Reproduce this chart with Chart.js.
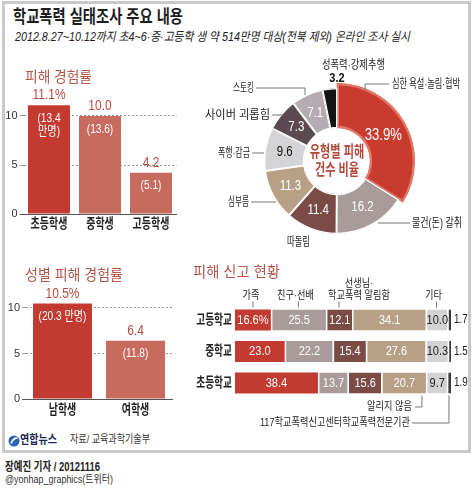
<!DOCTYPE html>
<html><head><meta charset="utf-8">
<script src="https://cdn.jsdelivr.net/npm/chart.js@4"></script>
<style>
html,body{margin:0;padding:0;background:#fff;}
body{width:474px;height:491px;position:relative;overflow:hidden;}
canvas{position:absolute;}
#frame{position:absolute;left:2px;top:1px;width:469px;height:452px;border:3px solid #c9c9c9;box-sizing:border-box;}
</style></head><body>
<div id="frame"></div>
<canvas id="cA" width="190" height="180" style="left:0;top:60px"></canvas>
<canvas id="cB" width="190" height="170" style="left:0;top:255px"></canvas>
<canvas id="cD" width="274" height="200" style="left:200px;top:55px"></canvas>
<canvas id="cC" width="280" height="165" style="left:190px;top:270px"></canvas>
<svg style="position:absolute;left:8px;top:435px" width="12" height="12"><circle cx="6" cy="6" r="5.5" fill="#2a62b8"/><path d="M3 8.5 Q5.5 2.5 9.6 3.2" stroke="#fff" stroke-width="1.6" fill="none"/></svg>
<script>
// ---------- data ----------
const rateCategories = ['초등학생', '중학생', '고등학생'];
const rateValues = [11.1, 10.0, 4.2];
const rateCountLabels = [['(13.4', '만명)'], ['(13.6)'], ['(5.1)']];
const rateTicks = [0, 5, 10];

const genderCategories = ['남학생', '여학생'];
const genderValues = [10.5, 6.4];
const genderCountLabels = [['(20.3 만명)'], ['(11.8)']];

const typeLabels = ['심한 욕설·놀림·협박', '물건(돈) 갈취', '따돌림', '심부름', '폭행·감금', '사이버 괴롭힘', '스토킹', '성폭력·강제추행'];
const typeValues = [33.9, 16.2, 11.4, 11.3, 9.6, 7.3, 7.1, 3.2];

const reportSchools = ['고등학교', '중학교', '초등학교'];
const reportChannels = ['가족', '친구·선배', '선생님·학교폭력 알림함', '알리지 않음', '기타', '117학교폭력신고센터학교폭력전문기관'];
const reportFamily  = [16.6, 23.0, 38.4];
const reportFriend  = [25.5, 22.2, 13.7];
const reportTeacher = [12.1, 15.4, 15.6];
const reportNone    = [34.1, 27.6, 20.7];
const reportOther   = [10.0, 10.3, 9.7];
const report117     = [1.7, 1.5, 1.9];

// ---------- style ----------
const FONT = '"Liberation Sans","Noto Sans CJK KR",sans-serif';
const RED = '#c33b30', SALMON = '#c66b5e', TITLE_RED = '#b4564a', VALUE_RED = '#b84a3e';
const reportColors = ['#c33b30', '#a99b99', '#7b4c45', '#b8a087', '#d3d3d5', '#3c3c3c'];
const typeColors = ['#c93b2f', '#a99b99', '#7b4c45', '#b8a087', '#d4d4d6', '#5b4a51', '#b3adb2', '#141414'];

function place(s, x1, x2, cy, size, o = {}) {
  const el = document.createElement('div');
  el.textContent = s;
  el.style.cssText = `position:absolute;left:${x1}px;top:${cy - 0.49 * size}px;font:${o.style || 'normal'} ${o.weight || 'normal'} ${size}px/${size}px ${FONT};color:${o.color || '#222'};white-space:nowrap;transform-origin:0 0;`;
  document.body.appendChild(el);
  const w = el.getBoundingClientRect().width;
  el.style.transform = `scaleX(${(x2 - x1) / w})`;
}
function ctext(ctx, s, x, cy, size, o = {}) {
  ctx.save();
  ctx.font = `${o.weight || 'normal'} ${size}px ${FONT}`;
  ctx.fillStyle = o.color || '#222';
  ctx.textAlign = o.align || 'center';
  ctx.textBaseline = 'middle';
  ctx.translate(x, cy);
  ctx.scale(o.sx || 0.8, 1);
  ctx.fillText(s, 0, 0);
  ctx.restore();
}
function line(ctx, pts, color = '#777') {
  ctx.save(); ctx.strokeStyle = color; ctx.lineWidth = 1; ctx.beginPath();
  pts.forEach((p, i) => i ? ctx.lineTo(p[0], p[1]) : ctx.moveTo(p[0], p[1]));
  ctx.stroke(); ctx.restore();
}

// ---------- texts ----------
place('학교폭력 실태조사 주요 내용', 13, 183, 17, 18, {weight: 'bold', color: '#1e1e1e'});
place('2012.8.27~10.12까지 초4~6·중·고등학 생 약 514만명 대상(전북 제외) 온라인 조사 실시', 15, 410, 37, 12.5, {style: 'italic', color: '#222'});
place('피해 경험률', 25, 92, 76, 15, {color: TITLE_RED});
place('성별 피해 경험률', 25, 123, 274, 15, {color: TITLE_RED});
place('피해 신고 현황', 193, 280, 271, 15, {color: TITLE_RED});

place(typeLabels[7], 322, 385, 65, 12);
place(typeLabels[0], 392, 460, 84, 12);
place(typeLabels[6], 233, 254, 88, 12);
place(typeLabels[5], 205, 270, 115, 12);
place(typeLabels[4], 218, 250, 153, 12);
place(typeLabels[3], 228, 249, 202, 12);
place(typeLabels[2], 287, 310, 242, 12);
place(typeLabels[1], 412, 462, 223, 12);

place('연합뉴스', 20, 57, 440, 12, {weight: 'bold', color: '#1d2850'});
place('자료/ 교육과학기술부', 70, 150, 440, 11.5, {color: '#333'});
place('장예진 기자 / 20121116', 5, 100, 467, 12, {weight: 'bold', color: '#222'});
place('@yonhap_graphics(트위터)', 5, 113, 479, 11, {color: '#333'});

// ---------- vertical bar charts ----------
function barLabelPlugin(fmt, inner, cats, catY) {
  return {
    id: 'barLabels',
    afterDatasetsDraw(chart) {
      const ctx = chart.ctx;
      const meta = chart.getDatasetMeta(0);
      meta.data.forEach((bar, i) => {
        const v = chart.data.datasets[0].data[i];
        ctext(ctx, fmt(v, i), bar.x, bar.y - 10, 15, {color: VALUE_RED, sx: 0.8});
        inner[i].forEach((ln, k) => ctext(ctx, ln, bar.x, bar.y + 13 + k * 13, 13, {color: '#fff', sx: 0.78}));
      });
      const xs = chart.scales.x;
      cats.forEach((c, i) => ctext(ctx, c, xs.getPixelForValue(i), catY, 13.5, {weight: 'bold', color: '#222', sx: 0.74}));
    }
  };
}
function barChart(id, cats, vals, colors, inner, o) {
  return new Chart(document.getElementById(id), {
    type: 'bar',
    data: {labels: cats, datasets: [{data: vals, backgroundColor: colors, barPercentage: o.barPct, categoryPercentage: 1}]},
    options: {
      responsive: false, animation: false, events: [],
      layout: {padding: {top: o.padTop, right: o.padRight, left: 0, bottom: 0}},
      plugins: {legend: {display: false}, tooltip: {enabled: false}},
      scales: {
        x: {grid: {display: false}, border: {display: true, color: '#555', width: 1}, ticks: {display: false},
            afterFit(s) { s.height = o.xH; }},
        y: {min: 0, max: 12,
            afterBuildTicks(s) { s.ticks = rateTicks.map(v => ({value: v})); },
            grid: {color: c => (c.tick && c.tick.value === 0) ? 'rgba(0,0,0,0)' : '#9a9a9a',
                   tickColor: c => (c.tick && c.tick.value === 0) ? '#555' : '#9a9a9a', tickLength: 4, lineWidth: 1},
            border: {display: false, dash: [2, 2]},
            ticks: {font: {size: 11, family: FONT}, color: '#333', padding: 2},
            afterFit(s) { s.width = o.yW; }}
      }
    },
    plugins: [barLabelPlugin((v, i) => v.toFixed(1) + (i === 0 ? '%' : ''), inner, cats, o.catY)]
  });
}
barChart('cA', rateCategories, rateValues, [RED, SALMON, SALMON], rateCountLabels,
  {barPct: 42 / 51, padTop: 36.4, padRight: 13.5, xH: 26, yW: 23.5, catY: 164});
barChart('cB', genderCategories, genderValues, [RED, SALMON], genderCountLabels,
  {barPct: 59 / 73, padTop: 34.8, padRight: 18, xH: 26, yW: 26, catY: 155});

// ---------- doughnut ----------
const OX = 200, OY = 55;
new Chart(document.getElementById('cD'), {
  type: 'doughnut',
  data: {labels: typeLabels, datasets: [{data: typeValues, backgroundColor: typeColors,
    borderColor: ['#e0796a', '#fff', '#fff', '#fff', '#fff', '#fff', '#fff', '#fff'],
    borderWidth: [2, 1, 1, 1, 1, 1, 1, 1], borderAlign: 'inner'}]},
  options: {
    responsive: false, animation: false, events: [],
    radius: 73, cutout: '45%',
    layout: {padding: {top: 12, bottom: 0, left: 0, right: 0}},
    plugins: {legend: {display: false}, tooltip: {enabled: false}}
  },
  plugins: [{
    id: 'dLabels',
    afterDatasetsUpdate(chart) {
      const a = chart.getDatasetMeta(0).data[0];
      a.outerRadius = a.outerRadius + 5;
    },
    afterDatasetsDraw(chart) {
      const ctx = chart.ctx;
      const arcs = chart.getDatasetMeta(0).data;
      const cx = arcs[1].x, cy = arcs[1].y, rin = arcs[1].innerRadius, rout = arcs[1].outerRadius;
      arcs.forEach((a, i) => {
        const v = typeValues[i];
        const mid = (a.startAngle + a.endAngle) / 2;
        if (i === 7) {
          ctext(ctx, v.toFixed(1), cx + Math.cos(a.endAngle) * (rout + 10), cy + Math.sin(a.endAngle) * (rout + 10), 13, {weight: 'bold', color: '#111', sx: 0.85});
          return;
        }
        const r = (rin + rout) / 2;
        const s = v.toFixed(1) + (i === 0 ? '%' : '');
        ctext(ctx, s, cx + Math.cos(mid) * r, cy + Math.sin(mid) * r, i === 0 ? 16 : 14,
          {color: i === 4 ? '#111' : '#fff', sx: 0.82});
      });
      ctext(ctx, '유형별 피해', cx, cy - 8, 15.5, {weight: 'bold', color: '#b3473a', sx: 0.72});
      ctext(ctx, '건수 비율', cx, cy + 10, 15.5, {weight: 'bold', color: '#b3473a', sx: 0.72});
      const L = (pts) => line(ctx, pts.map(p => [p[0] - OX, p[1] - OY]), '#777');
      L([[389, 84], [365, 84], [365, 90]]);
      L([[256, 88], [305, 88], [305, 95]]);
      L([[272, 115], [283, 115]]);
      L([[252, 153], [264, 153]]);
      L([[251, 202], [276, 202]]);
      L([[378, 223], [410, 223]]);
    }
  }]
});

// ---------- stacked horizontal bar ----------
const reportSeries = [reportFamily, reportFriend, reportTeacher, reportNone, reportOther, report117];
new Chart(document.getElementById('cC'), {
  type: 'bar',
  data: {labels: reportSchools, datasets: reportSeries.map((d, i) => ({
    label: reportChannels[i], data: d, backgroundColor: reportColors[i],
    borderColor: '#fff', borderSkipped: false,
    borderWidth: i === 0 ? 0 : {left: 1.5, right: 0, top: 0, bottom: 0},
    barPercentage: 21 / 31.5, categoryPercentage: 1}))},
  options: {
    indexAxis: 'y', responsive: false, animation: false, events: [],
    layout: {padding: {left: 45, right: 19, top: 34.25, bottom: 36.25}},
    plugins: {legend: {display: false}, tooltip: {enabled: false}},
    scales: {x: {display: false, stacked: true, min: 0, max: 100}, y: {display: false, stacked: true}}
  },
  plugins: [{
    id: 'cLabels',
    afterDatasetsDraw(chart) {
      const ctx = chart.ctx;
      chart.data.datasets.forEach((ds, di) => {
        chart.getDatasetMeta(di).data.forEach((el, ri) => {
          let s = ds.data[ri].toFixed(1);
          if (di === 0 && ri === 0) s += '%';
          if (di === 5) ctext(ctx, s, el.x + 3, el.y, 12, {align: 'left', color: '#222', sx: 0.82});
          else ctext(ctx, s, (el.x + el.base) / 2 + (di > 0 ? 0.75 : 0), el.y, 13, {color: di === 4 ? '#222' : '#fff', sx: 0.85});
        });
      });
      const m0 = chart.getDatasetMeta(0).data;
      reportSchools.forEach((s, i) => ctext(ctx, s, m0[i].base - 3, m0[i].y, 13.5, {align: 'right', weight: 'bold', color: '#222', sx: 0.72}));
      // header labels
      const heads = [{di: 0, lines: [reportChannels[0]], dx: -2}, {di: 1, lines: [reportChannels[1]], dx: -3},
                     {di: 2, lines: ['선생님·', '학교폭력 알림함'], dx: 20}, {di: 4, lines: [reportChannels[4]], dx: -3}];
      heads.forEach(h => {
        const el = chart.getDatasetMeta(h.di).data[0];
        const cx = (el.x + el.base) / 2, top = el.y - el.height / 2;
        line(ctx, [[cx, top - 8], [cx, top - 2]], '#777');
        h.lines.forEach((ln, k) => ctext(ctx, ln, cx + h.dx, top - 14 - (h.lines.length - 1 - k) * 12, 11.5, {color: '#222', sx: 0.8}));
      });
      // footer annotations
      const eN = chart.getDatasetMeta(3).data[2];
      const vx1 = eN.x - 4, b1 = eN.y + eN.height / 2;
      line(ctx, [[vx1, b1 + 2], [vx1, 137], [vx1 - 7, 137]], '#777');
      ctext(ctx, reportChannels[3], vx1 - 10, 137, 11.5, {align: 'right', color: '#222', sx: 0.8});
      const e7 = chart.getDatasetMeta(5).data[2];
      const vx2 = (e7.x + e7.base) / 2, b2 = e7.y + e7.height / 2;
      line(ctx, [[vx2, b2 + 2], [vx2, 153], [222, 153]], '#777');
      ctext(ctx, reportChannels[5], 220, 153, 11.5, {align: 'right', color: '#222', sx: 0.8});
    }
  }]
});
</script>
</body></html>
